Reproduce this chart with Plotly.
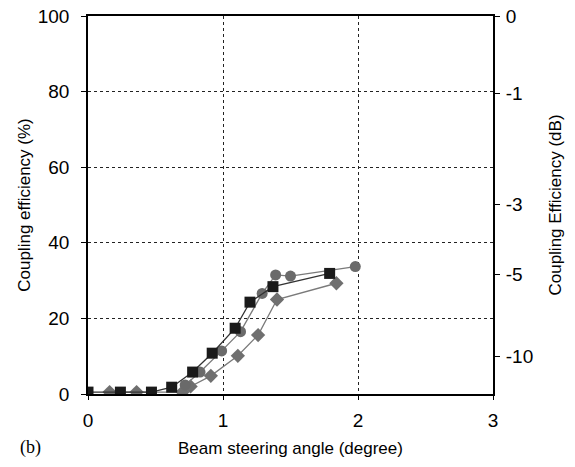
import plotly.graph_objects as go

# Data
sq_x = [0.0, 0.24, 0.47, 0.62, 0.775, 0.92, 1.09, 1.20, 1.37, 1.79]
sq_y = [0.5, 0.5, 0.5, 1.8, 5.8, 10.8, 17.4, 24.3, 28.4, 31.9]

ci_x = [0.72, 0.83, 0.99, 1.13, 1.29, 1.39, 1.50, 1.98]
ci_y = [2.4, 5.8, 11.4, 16.5, 26.6, 31.5, 31.2, 33.7]

di_x = [0.16, 0.36, 0.70, 0.76, 0.91, 1.11, 1.26, 1.40, 1.84]
di_y = [0.5, 0.5, 0.5, 2.0, 4.8, 10.1, 15.6, 25.0, 29.3]

x_ticks = [0, 1, 2, 3]
y_ticks = [0, 20, 40, 60, 80, 100]
db_labels = ["0", "-1", "-3", "-5", "-10"]
db_values = [0, -1, -3, -5, -10]
db_positions = [100 * 10 ** (d / 10) for d in db_values]

FONT = "Liberation Sans, Arial, sans-serif"
TICK = 19
TITLE = 17

fig = go.Figure()
fig.add_trace(go.Scatter(x=di_x, y=di_y, mode="lines+markers",
                         line=dict(color="#7a7a7a", width=1.3),
                         marker=dict(symbol="diamond", size=11, color="#6f6f6f"),
                         showlegend=False))
fig.add_trace(go.Scatter(x=ci_x, y=ci_y, mode="lines+markers",
                         line=dict(color="#7a7a7a", width=1.3),
                         marker=dict(symbol="circle", size=11, color="#6a6a6a"),
                         showlegend=False))
fig.add_trace(go.Scatter(x=sq_x, y=sq_y, mode="lines+markers",
                         line=dict(color="#333333", width=1.3),
                         marker=dict(symbol="square", size=11, color="#1a1a1a"),
                         showlegend=False))
# invisible trace for secondary axis
fig.add_trace(go.Scatter(x=[0], y=[0], yaxis="y2", mode="markers",
                         marker=dict(opacity=0), showlegend=False, hoverinfo="skip"))

fig.update_layout(
    width=575, height=467,
    margin=dict(l=88, r=82, t=16, b=73),
    paper_bgcolor="white", plot_bgcolor="white",
    font=dict(family=FONT, size=TICK, color="black"),
    xaxis=dict(range=[0, 3], tickvals=x_ticks, ticktext=[str(v) for v in x_ticks],
               showline=True, linecolor="black", linewidth=1.5, mirror=True,
               showgrid=True, gridcolor="#222222", griddash="dot", gridwidth=1,
               ticks="outside", ticklen=4, tickcolor="black",
               ticklabelstandoff=4, zeroline=False, automargin=False,
               tickfont=dict(size=TICK),
               title=dict(text="Beam steering angle (degree)", standoff=13,
                          font=dict(size=TITLE))),
    yaxis=dict(range=[0, 100], tickvals=y_ticks, ticktext=[str(v) for v in y_ticks],
               showline=True, linecolor="black", linewidth=1.5, mirror=True,
               showgrid=True, gridcolor="#222222", griddash="dot", gridwidth=1,
               ticks="outside", ticklen=5, tickcolor="black",
               ticklabelstandoff=8, zeroline=False, automargin=False,
               tickfont=dict(size=TICK),
               title=dict(text="Coupling efficiency (%)", standoff=3,
                          font=dict(size=TITLE))),
    yaxis2=dict(range=[0, 100], overlaying="y", side="right",
                tickvals=db_positions, ticktext=db_labels,
                showgrid=False, zeroline=False, showline=False,
                ticks="outside", ticklen=6, tickcolor="black",
                ticklabelstandoff=2, automargin=False,
                tickfont=dict(size=TICK),
                title=dict(text="Coupling Efficiency (dB)", standoff=16,
                           font=dict(size=TITLE))),
    annotations=[dict(text="(b)", xref="paper", yref="paper",
                      x=(30 - 88) / 405, y=(394 - 447) / 378,
                      xanchor="center", yanchor="middle", showarrow=False,
                      font=dict(family="Liberation Serif, Times New Roman, serif", size=18))],
)

fig.write_html("out.html", post_script="document.body.style.margin='0px';",
               config={"displayModeBar": False})
